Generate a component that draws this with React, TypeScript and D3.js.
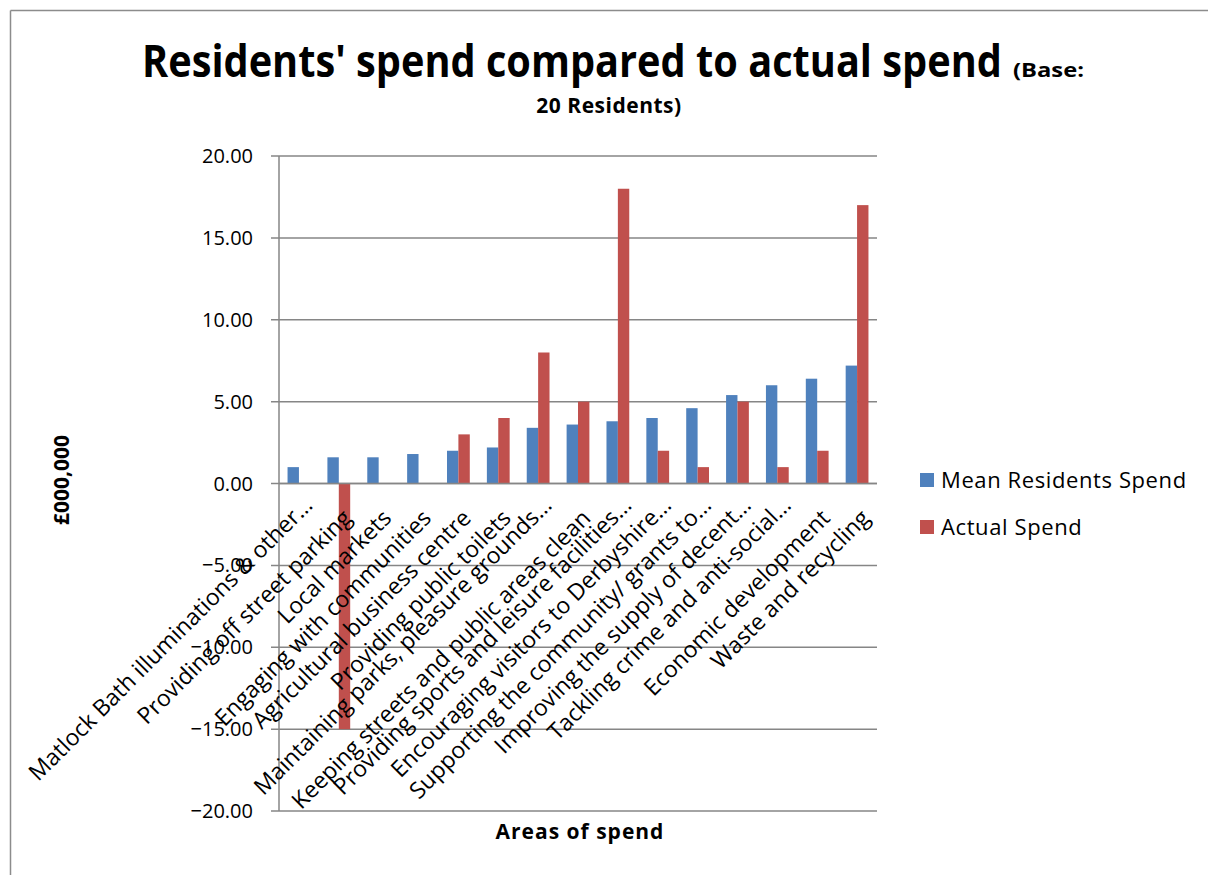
import React, { useLayoutEffect, useRef, useState } from "react";
import * as d3 from "d3";

const categories = [
  "Matlock Bath illuminations & other…",
  "Providing off street parking",
  "Local markets",
  "Engaging with communities",
  "Agricultural business centre",
  "Providing public toilets",
  "Maintaining parks, pleasure grounds…",
  "Keeping streets and public areas clean",
  "Providing sports and leisure facilities…",
  "Encouraging visitors to Derbyshire…",
  "Supporting the community/ grants to…",
  "Improving the supply of decent…",
  "Tackling crime and anti-social…",
  "Economic development",
  "Waste and recycling",
];
const meanResidentsSpend = [1.0, 1.6, 1.6, 1.8, 2.0, 2.2, 3.4, 3.6, 3.8, 4.0, 4.6, 5.4, 6.0, 6.4, 7.2];
const actualSpend = [0, -15, 0, 0, 3, 4, 8, 5, 18, 2, 1, 5, 1, 2, 17];
const yTicks = [20, 15, 10, 5, 0, -5, -10, -15, -20];
const seriesNames = ["Mean Residents Spend", "Actual Spend"];
const seriesColors = ["#4F81BD", "#C0504D"];

const W = 1208;
const H = 875;
const plot = { left: 279, right: 877, top: 156, bottom: 811 };
const FONT = "'Open Sans', 'DejaVu Sans', sans-serif";

function FitText(props: { x: number; y: number; width: number; fontSize: number; children: string }) {
  const ref = useRef<SVGTextElement>(null);
  const [sx, setSx] = useState(1);
  useLayoutEffect(() => {
    if (ref.current) {
      const len = ref.current.getComputedTextLength();
      if (len > 0) setSx(props.width / len);
    }
  }, [props.width, props.children]);
  return (
    <g transform={`translate(${props.x},${props.y}) scale(${sx},1)`}>
      <text ref={ref} x={0} y={0} fontSize={props.fontSize} fontWeight="bold" fill="#000">
        {props.children}
      </text>
    </g>
  );
}

export default function App() {
  const x = d3.scaleBand<string>().domain(categories).range([plot.left, plot.right]).paddingInner(0).paddingOuter(0);
  const y = d3.scaleLinear().domain([-20, 20]).range([plot.bottom, plot.top]);
  const bw = x.bandwidth() / 3.5;
  const grid = "#868686";

  return (
    <svg width={W} height={H} style={{ position: "absolute", left: 0, top: 0, background: "#fff" }} fontFamily={FONT}>
      <rect x={0} y={0} width={W} height={H} fill="#fff" />
      {/* chart border */}
      <line x1={10.5} y1={10.5} x2={W} y2={10.5} stroke="#8c8c8c" strokeWidth={1.5} />
      <line x1={10.5} y1={10.5} x2={10.5} y2={H} stroke="#8c8c8c" strokeWidth={1.5} />

      {/* title */}
      <FitText x={142} y={77} width={860} fontSize={44}>
        Residents' spend compared to actual spend
      </FitText>
      <FitText x={1013} y={77} width={71} fontSize={20}>
        (Base:
      </FitText>
      <text x={609} y={113} fontSize={21} fontWeight="bold" textAnchor="middle" letterSpacing={0.5} fill="#000">
        20 Residents)
      </text>

      {/* gridlines and y ticks */}
      {yTicks.map((t) => (
        <g key={t}>
          <line x1={plot.left - 8} x2={plot.right} y1={y(t)} y2={y(t)} stroke={grid} strokeWidth={1.5} />
          <text x={253} y={y(t)} dy="0.35em" textAnchor="end" fontSize={20} fill="#000">
            {d3.format(".2f")(t)}
          </text>
        </g>
      ))}
      <line x1={plot.left} x2={plot.left} y1={plot.top} y2={plot.bottom} stroke={grid} strokeWidth={1.5} />

      {/* bars */}
      {categories.map((c, i) => {
        const cx = (x(c) as number) + x.bandwidth() / 2;
        const vals = [meanResidentsSpend[i], actualSpend[i]];
        return vals.map((v, s) => {
          if (v === 0) return null;
          const y0 = y(Math.max(0, v));
          const y1 = y(Math.min(0, v));
          return (
            <rect
              key={`${i}-${s}`}
              x={cx - bw + s * bw}
              y={y0}
              width={bw}
              height={y1 - y0}
              fill={seriesColors[s]}
            />
          );
        });
      })}
      <line x1={plot.left} x2={plot.right} y1={y(0)} y2={y(0)} stroke={grid} strokeWidth={1.5} />

      {/* category labels */}
      {categories.map((c) => {
        const cx = (x(c) as number) + x.bandwidth() / 2;
        const truncated = c.endsWith("…");
        const dx = truncated ? 15 : 14;
        const dy = truncated ? 23 : 36;
        return (
          <text
            key={c}
            transform={`translate(${cx + dx},${y(0) + dy}) rotate(-45)`}
            textAnchor="end"
            fontSize={23}
            fill="#000"
          >
            {c}
          </text>
        );
      })}

      {/* axis titles */}
      <text x={580} y={839} textAnchor="middle" fontSize={21} fontWeight="bold" letterSpacing={1} fill="#000">
        Areas of spend
      </text>
      <text transform={`translate(69,480) rotate(-90)`} textAnchor="middle" fontSize={21} fontWeight="bold" fill="#000">
        £000,000
      </text>

      {/* legend */}
      {seriesNames.map((n, i) => (
        <g key={n} transform={`translate(920,${473 + i * 47})`}>
          <rect x={0} y={0} width={14} height={14} fill={seriesColors[i]} />
          <text x={21} y={15} fontSize={22} letterSpacing={0.6} fill="#000">
            {n}
          </text>
        </g>
      ))}
    </svg>
  );
}
